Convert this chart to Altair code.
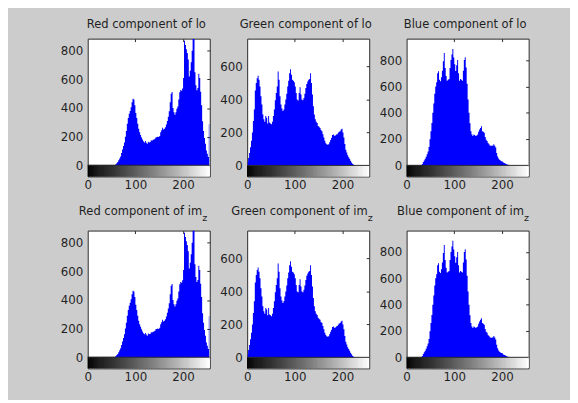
import altair as alt
import pandas as pd

# ---------------- data ----------------
bin_starts = list(range(0, 256, 2))          # 128 bins of width 2
bin_width = 2

red = [0] * 28 + [
    2, 8, 15, 23, 35, 48, 62, 85, 110, 135,
    160, 200, 240, 290, 330, 360, 380, 405, 440, 465,
    460, 420, 366, 330, 290, 255, 230, 212, 195, 180,
    168, 160, 170, 158, 150, 165, 160, 162, 175, 172,
    178, 180, 185, 195, 198, 200, 198, 205, 230, 245,
    262, 250, 255, 265, 285, 310, 340, 377, 440, 500,
    512, 400, 370, 354, 370, 395, 411, 460, 510, 526,
    520, 537, 610, 870, 840, 811, 785, 740, 620, 660,
    720, 800, 885, 885, 650, 560, 525, 540, 640, 610,
    514, 420, 308, 240, 190, 150, 103, 80, 57, 286,
]

green = [
    20, 45, 75, 110, 150, 200, 270, 340, 455, 500,
    530, 545, 520, 480, 420, 370, 310, 280, 265, 300,
    290, 255, 300, 260, 255, 250, 265, 300, 340, 396,
    440, 480, 570, 520, 420, 370, 345, 330, 340, 370,
    400, 436, 480, 515, 560, 584, 550, 520, 515, 505,
    480, 440, 400, 395, 440, 475, 430, 400, 396, 410,
    436, 470, 495, 510, 520, 525, 560, 500, 430, 360,
    310, 280, 265, 257, 240, 235, 228, 215, 208, 190,
    170, 150, 135, 128, 125, 128, 140, 155, 168, 185,
    188, 180, 182, 188, 190, 198, 205, 208, 218, 222,
    200, 170, 130, 95, 78, 62, 50, 40, 28, 18,
    10, 5,
] + [0] * 16

blue = [0] * 15 + [
    3, 10, 25, 38, 50, 65, 85, 105, 140, 198,
    260, 322, 400, 470, 545, 600, 631, 700, 715, 650,
    640, 669, 720, 792, 854, 740, 680, 644, 650, 656,
    740, 800, 842, 885, 820, 768, 718, 760, 800, 700,
    644, 656, 650, 644, 720, 800, 822, 743, 620, 500,
    400, 320, 260, 235, 223, 235, 230, 223, 228, 235,
    255, 272, 285, 297, 260, 255, 248, 215, 195, 186,
    170, 161, 152, 149, 149, 152, 161, 150, 136, 95,
    68, 52, 42, 37, 32, 30, 22, 18, 15, 10,
    7, 4, 2,
] + [0] * 20

series = [red, green, blue]
top_titles = ["Red component of lo", "Green component of lo", "Blue component of lo"]
bottom_titles = ["Red component of im", "Green component of im", "Blue component of im"]
subscript_text = "z"
y_max = [885, 770, 963]
y_min = [-78, -67, -84]
y_ticks = [[0, 200, 400, 600, 800], [0, 200, 400, 600], [0, 200, 400, 600, 800]]
x_ticks = [0, 100, 200]
x_top_ticks = [100, 200]
gray_levels = list(range(256))

# ---------------- styling ----------------
FONT = "DejaVu Sans"
TXT = "#1f1f1f"
FRAME = "#2a2a2a"
BG = "#cccccc"
W, H = 124, 140
TITLE_FS = 11.7
SUB_FS = 9.7
sub_x = [116.3, 122.4, 119.3]   # where the subscript starts (panel px)


def panel(i, bottom_row):
    counts = series[i]
    ymin, ymax = y_min[i], y_max[i]
    xs = alt.Scale(domain=[0, 256], nice=False, zero=False)
    ys = alt.Scale(domain=[ymin, ymax], nice=False, zero=False)
    gs = alt.Scale(domain=[0, 255], range=["#000000", "#ffffff"])

    hist_df = pd.DataFrame({
        "c": [b + bin_width / 2 for b in bin_starts],
        "count": counts,
        "base": [0] * len(bin_starts),
    })
    cb_df = pd.DataFrame({
        "g": gray_levels,
        "g2": [g + 1 for g in gray_levels],
        "lo": [ymin] * len(gray_levels),
        "hi": [0] * len(gray_levels),
    })

    colorbar = alt.Chart(cb_df).mark_rect(clip=True, strokeWidth=0.5).encode(
        x=alt.X("g:Q", scale=xs, axis=alt.Axis(
            orient="top", values=x_top_ticks, labels=False, domain=False,
            grid=False, ticks=True, tickSize=3, offset=-3, tickColor=FRAME,
            title=None)),
        x2="g2:Q",
        y=alt.Y("lo:Q", scale=ys, axis=alt.Axis(
            orient="right", values=y_ticks[i], labels=False, domain=False,
            grid=False, ticks=True, tickSize=3, offset=-3, tickColor=FRAME,
            title=None)),
        y2="hi:Q",
        color=alt.Color("g:Q", scale=gs, legend=None),
        stroke=alt.Stroke("g:Q", scale=gs, legend=None),
    )

    hist = alt.Chart(hist_df).mark_area(
        color="#0000ff", interpolate="step", clip=True, opacity=1).encode(
        x=alt.X("c:Q", scale=xs, axis=alt.Axis(
            orient="bottom", values=x_ticks, ticks=False, tickSize=0,
            domain=False, grid=False, labelPadding=3, labelFlush=False,
            labelOverlap=False, title=None)),
        y=alt.Y("count:Q", scale=ys, axis=alt.Axis(
            orient="left", values=y_ticks[i], ticks=False, tickSize=0,
            domain=False, grid=False, labelPadding=5, labelFlush=False,
            labelOverlap=False, title=None)),
        y2="base:Q",
    )

    zero_line = alt.Chart(pd.DataFrame({"z": [0]})).mark_rule(
        color=FRAME, strokeWidth=1).encode(
        y=alt.Y("z:Q", scale=ys, axis=None))

    layers = [colorbar, hist, zero_line]

    if not bottom_row:
        t = alt.Chart(pd.DataFrame({"t": [top_titles[i]]})).mark_text(
            font=FONT, fontSize=TITLE_FS, color=TXT, align="center",
            baseline="alphabetic").encode(
            text="t:N", x=alt.value(59.5), y=alt.value(-11))
        layers.append(t)
    else:
        t = alt.Chart(pd.DataFrame({"t": [bottom_titles[i]]})).mark_text(
            font=FONT, fontSize=TITLE_FS, color=TXT, align="right",
            baseline="alphabetic").encode(
            text="t:N", x=alt.value(sub_x[i]), y=alt.value(-16))
        s = alt.Chart(pd.DataFrame({"t": [subscript_text]})).mark_text(
            font=FONT, fontSize=SUB_FS, color=TXT, align="left",
            baseline="alphabetic").encode(
            text="t:N", x=alt.value(sub_x[i]), y=alt.value(-9.5))
        layers += [t, s]

    return alt.layer(*layers).resolve_axis(
        x="independent", y="independent").properties(width=W, height=H)


panels = [panel(i, False) for i in range(3)] + [panel(i, True) for i in range(3)]

chart = alt.concat(
    *panels, columns=3, spacing={"row": 55, "column": 38}, bounds="flush"
).properties(
    background=BG,
    padding={"left": 52, "top": 7, "right": 41, "bottom": 14},
).configure_view(
    stroke=FRAME, strokeWidth=1, fill="white"
).configure_axis(
    labelFont=FONT, labelFontSize=12, labelColor=TXT
)

chart.save("out.html", embed_options={"renderer": "svg", "actions": False})
